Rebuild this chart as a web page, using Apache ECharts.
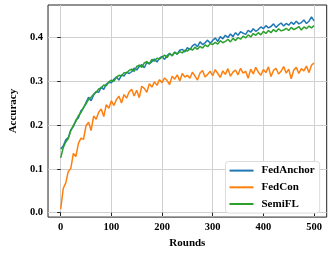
<!DOCTYPE html>
<html>
<head>
<meta charset="utf-8">
<script src="https://cdn.jsdelivr.net/npm/echarts@6/dist/echarts.min.js"></script>
<style>html,body{margin:0;padding:0;background:#fff}#c{width:332px;height:254px}</style>
</head>
<body>
<div id="c"></div>
<script>
const step = 5;
const xTicks = [0, 100, 200, 300, 400, 500];
const yTicks = [0.0, 0.1, 0.2, 0.3, 0.4];
const seriesNames = ['FedAnchor', 'FedCon', 'SemiFL'];
const fedAnchor = [
0.145,0.152,0.166,0.171,0.189,0.196,0.211,0.216,0.232,0.238,
0.251,0.263,0.255,0.268,0.276,0.274,0.286,0.281,0.293,0.297,
0.296,0.304,0.309,0.302,0.314,0.311,0.320,0.317,0.321,0.329,
0.325,0.333,0.337,0.330,0.342,0.339,0.344,0.350,0.343,0.352,
0.356,0.349,0.358,0.363,0.357,0.366,0.361,0.370,0.372,0.366,
0.376,0.371,0.380,0.384,0.378,0.389,0.383,0.387,0.393,0.386,
0.392,0.398,0.390,0.401,0.396,0.404,0.399,0.407,0.401,0.410,
0.404,0.412,0.409,0.406,0.415,0.411,0.419,0.413,0.417,0.423,
0.419,0.426,0.421,0.424,0.430,0.422,0.428,0.432,0.425,0.431,
0.427,0.434,0.429,0.436,0.430,0.433,0.439,0.431,0.436,0.446,
0.437];
const fedCon = [
0.008,0.055,0.068,0.094,0.101,0.135,0.128,0.158,0.170,0.167,
0.198,0.206,0.187,0.220,0.213,0.229,0.236,0.219,0.246,0.238,
0.255,0.244,0.258,0.265,0.250,0.269,0.261,0.275,0.281,0.266,
0.279,0.262,0.288,0.283,0.274,0.294,0.286,0.298,0.290,0.303,
0.296,0.307,0.301,0.292,0.311,0.304,0.314,0.300,0.317,0.309,
0.313,0.306,0.320,0.311,0.302,0.318,0.324,0.309,0.315,0.322,
0.312,0.326,0.317,0.308,0.323,0.315,0.328,0.311,0.320,0.325,
0.314,0.329,0.318,0.322,0.306,0.327,0.316,0.331,0.320,0.313,
0.326,0.319,0.332,0.310,0.324,0.329,0.316,0.322,0.333,0.318,
0.327,0.305,0.325,0.331,0.317,0.328,0.323,0.334,0.319,0.336,
0.341];
const semiFL = [
0.125,0.148,0.161,0.169,0.187,0.199,0.208,0.221,0.228,0.240,
0.248,0.258,0.263,0.270,0.274,0.282,0.284,0.291,0.289,0.298,
0.302,0.299,0.309,0.313,0.311,0.319,0.318,0.324,0.327,0.322,
0.333,0.336,0.331,0.341,0.344,0.339,0.349,0.345,0.352,0.350,
0.354,0.359,0.353,0.362,0.358,0.365,0.361,0.367,0.364,0.370,
0.368,0.374,0.370,0.377,0.372,0.379,0.375,0.382,0.378,0.385,
0.383,0.388,0.384,0.392,0.387,0.390,0.395,0.389,0.397,0.392,
0.399,0.395,0.402,0.398,0.405,0.400,0.408,0.404,0.410,0.405,
0.413,0.408,0.415,0.410,0.417,0.412,0.419,0.414,0.416,0.420,
0.415,0.422,0.417,0.420,0.424,0.416,0.423,0.419,0.425,0.421,
0.426];
const colors = ['#1f77b4', '#ff7f0e', '#2ca02c'];
const values = [fedAnchor, fedCon, semiFL];

const font = '"Liberation Serif", "DejaVu Serif", serif';
const chart = echarts.init(document.getElementById('c'), null, {renderer: 'canvas'});
const mk = arr => arr.map((v, i) => [i * step, v]);
chart.setOption({
  animation: false,
  backgroundColor: '#fff',
  grid: {left: 38.5, right: 5.3, top: 5, bottom: 35.3, show: true, borderColor: '#222', borderWidth: 1, backgroundColor: 'transparent', containLabel: false},
  legend: {
    orient: 'vertical', left: 225.5, top: 161.5,
    padding: [3, 5, 3, 4], itemGap: 4.5, itemWidth: 24, itemHeight: 2,
    backgroundColor: '#fff', borderColor: '#dcdcdc', borderWidth: 1, borderRadius: 3,
    textStyle: {fontFamily: font, fontWeight: 'bold', fontSize: 11, color: '#000', lineHeight: 12.2, padding: [0,0,0,3]},
    data: seriesNames.map(n => ({name: n, icon: 'rect'}))
  },
  xAxis: {
    type: 'value', min: -25, max: 525,
    name: 'Rounds', nameLocation: 'middle', nameGap: 17,
    nameTextStyle: {fontFamily: font, fontWeight: 'bold', fontSize: 11, color: '#000'},
    axisLine: {show: false},
    axisTick: {show: true, inside: false, length: 3.5, lineStyle: {color: '#222', width: 1}, customValues: xTicks},
    axisLabel: {customValues: xTicks, margin: 5, fontFamily: font, fontWeight: 'bold', fontSize: 10.5, color: '#000'},
    splitLine: {show: true, lineStyle: {color: '#d0d0d0', width: 1}}
  },
  yAxis: {
    type: 'value', min: -0.01, max: 0.473,
    name: 'Accuracy', nameLocation: 'middle', nameGap: 29, nameRotate: 90,
    nameTextStyle: {fontFamily: font, fontWeight: 'bold', fontSize: 11, color: '#000'},
    axisLine: {show: false},
    axisTick: {show: true, inside: false, length: 3.5, lineStyle: {color: '#222', width: 1}, customValues: yTicks},
    axisLabel: {customValues: yTicks, margin: 5, formatter: v => v.toFixed(1), fontFamily: font, fontWeight: 'bold', fontSize: 10.5, color: '#000'},
    splitLine: {show: true, lineStyle: {color: '#d0d0d0', width: 1}}
  },
  series: seriesNames.map((n, k) => ({
    name: n, type: 'line', data: mk(values[k]), showSymbol: false, symbol: 'none',
    lineStyle: {color: colors[k], width: 1.5}, itemStyle: {color: colors[k]}, z: 2 + k
  }))
});
</script>
</body>
</html>
